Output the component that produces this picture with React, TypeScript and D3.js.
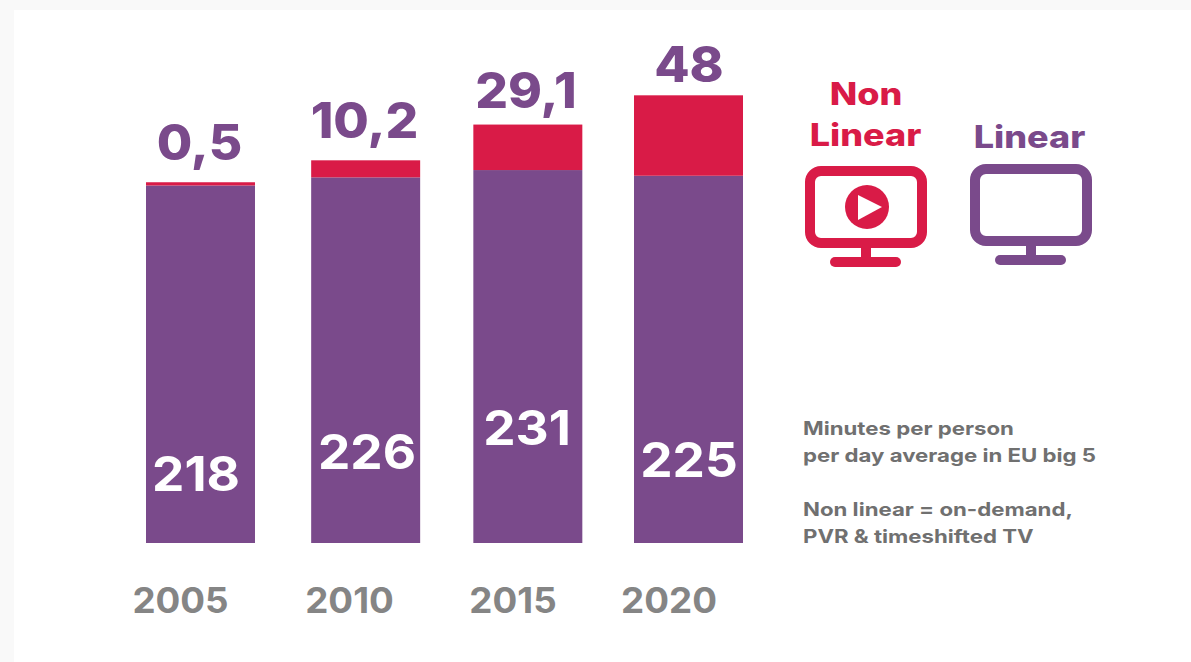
import { useEffect, useRef } from "react";
import * as d3 from "d3";

const years = ["2005", "2010", "2015", "2020"];
// segment lengths (the artwork is not quite to scale with its labels)
const linearValues = [220, 225, 229.5, 226];
const nonLinearValues = [2, 10.5, 28, 49.5];
const linearLabels = ["218", "226", "231", "225"];
const nonLinearLabels = ["0,5", "10,2", "29,1", "48"];
const noteLines = [
    "Minutes per person",
    "per day average in EU big 5",
    "",
    "Non linear = on-demand,",
    "PVR & timeshifted TV",
];

const PURPLE = "#7a4a8b";
const RED = "#d91b47";
const GREY = "#858585";
const FONT = "Inter, sans-serif";

const App = () => {
    const svgRef = useRef<SVGSVGElement>(null);

    useEffect(() => {
        const svg = d3.select(svgRef.current);
        svg.selectAll("*").remove();

        const width = 1191;
        const height = 662;

        svg.append("rect").attr("width", width).attr("height", height).attr("fill", "#f9f9f9");
        svg.append("rect").attr("x", 14).attr("y", 10).attr("width", width - 14).attr("height", height - 10).attr("fill", "#fff");

        const x = d3.scaleBand().domain(years).range([146, 743]).paddingInner(0.33).paddingOuter(0);
        const y = d3.scaleLinear().domain([0, 100]).range([543, 380.5]);

        // hand placed artwork: small nudges per column
        const barNudge = [0, 2.5, 2, 0];
        const yearX = [180.5, 349.5, 513, 669];
        const nonLinearX = [199.5, 364.5, 526, 689];
        const nonLinearY = [160, 138, 108, 82];
        const linearX = [196, 367, 527, 689];
        const linearY = [491, 469, 445, 477];

        // the original face is wider than Inter, so stretch each text to fit
        const label = (
            txt: string,
            tx: number,
            ty: number,
            size: number,
            weight: number,
            color: string,
            stretch: number,
            anchor = "middle",
        ) => {
            const el = svg.append("text").attr("x", tx).attr("y", ty).attr("text-anchor", anchor)
                .attr("font-size", size).attr("font-weight", weight).attr("fill", color).text(txt);
            const len = el.node()!.getComputedTextLength();
            el.attr("textLength", len * stretch).attr("lengthAdjust", "spacingAndGlyphs");
        };

        years.forEach((year, i) => {
            const bx = x(year)! + barNudge[i];
            const top = y(linearValues[i]);
            const stacked = y(linearValues[i] + nonLinearValues[i]);
            svg.append("rect").attr("x", bx).attr("y", top).attr("width", x.bandwidth()).attr("height", y(0) - top).attr("fill", PURPLE);
            svg.append("rect").attr("x", bx).attr("y", stacked).attr("width", x.bandwidth()).attr("height", top - stacked).attr("fill", RED);

            label(nonLinearLabels[i], nonLinearX[i], nonLinearY[i], 49, 800, PURPLE, 1.05);
            label(linearLabels[i], linearX[i], linearY[i], 48, 700, "#fff", 1.07);
            label(year, yearX[i], 613, 35, 700, GREY, 1.05);
        });

        // legend
        label("Non", 866, 104.5, 31, 800, RED, 1.16);
        label("Linear", 865.5, 146, 31, 800, RED, 1.16);
        label("Linear", 1029.5, 148, 31, 800, PURPLE, 1.16);

        const tv = (ox: number, oy: number, color: string) => {
            const g = svg.append("g").attr("transform", `translate(${ox},${oy})`);
            g.append("rect").attr("x", 5).attr("y", 5).attr("width", 112).attr("height", 72).attr("rx", 11)
                .attr("fill", "none").attr("stroke", color).attr("stroke-width", 10);
            g.append("rect").attr("x", 56).attr("y", 80).attr("width", 10).attr("height", 13).attr("fill", color);
            g.append("rect").attr("x", 25).attr("y", 91).attr("width", 71).attr("height", 10).attr("rx", 5).attr("fill", color);
        };
        tv(805, 166, RED);
        tv(970, 164, PURPLE);

        svg.append("circle").attr("cx", 867).attr("cy", 207).attr("r", 22).attr("fill", RED);
        svg.append("path").attr("d", d3.line()([[858, 195], [858, 220], [882, 207]])! + "Z").attr("fill", "#fff");

        noteLines.forEach((line, i) => {
            if (line) label(line, 803, 435 + i * 27, 18.5, 700, "#707070", 1.2, "start");
        });
    }, []);

    return (
        <svg
            ref={svgRef}
            width={1191}
            height={662}
            style={{ position: "absolute", left: 0, top: 0, fontFamily: FONT }}
        />
    );
};

export default App;
